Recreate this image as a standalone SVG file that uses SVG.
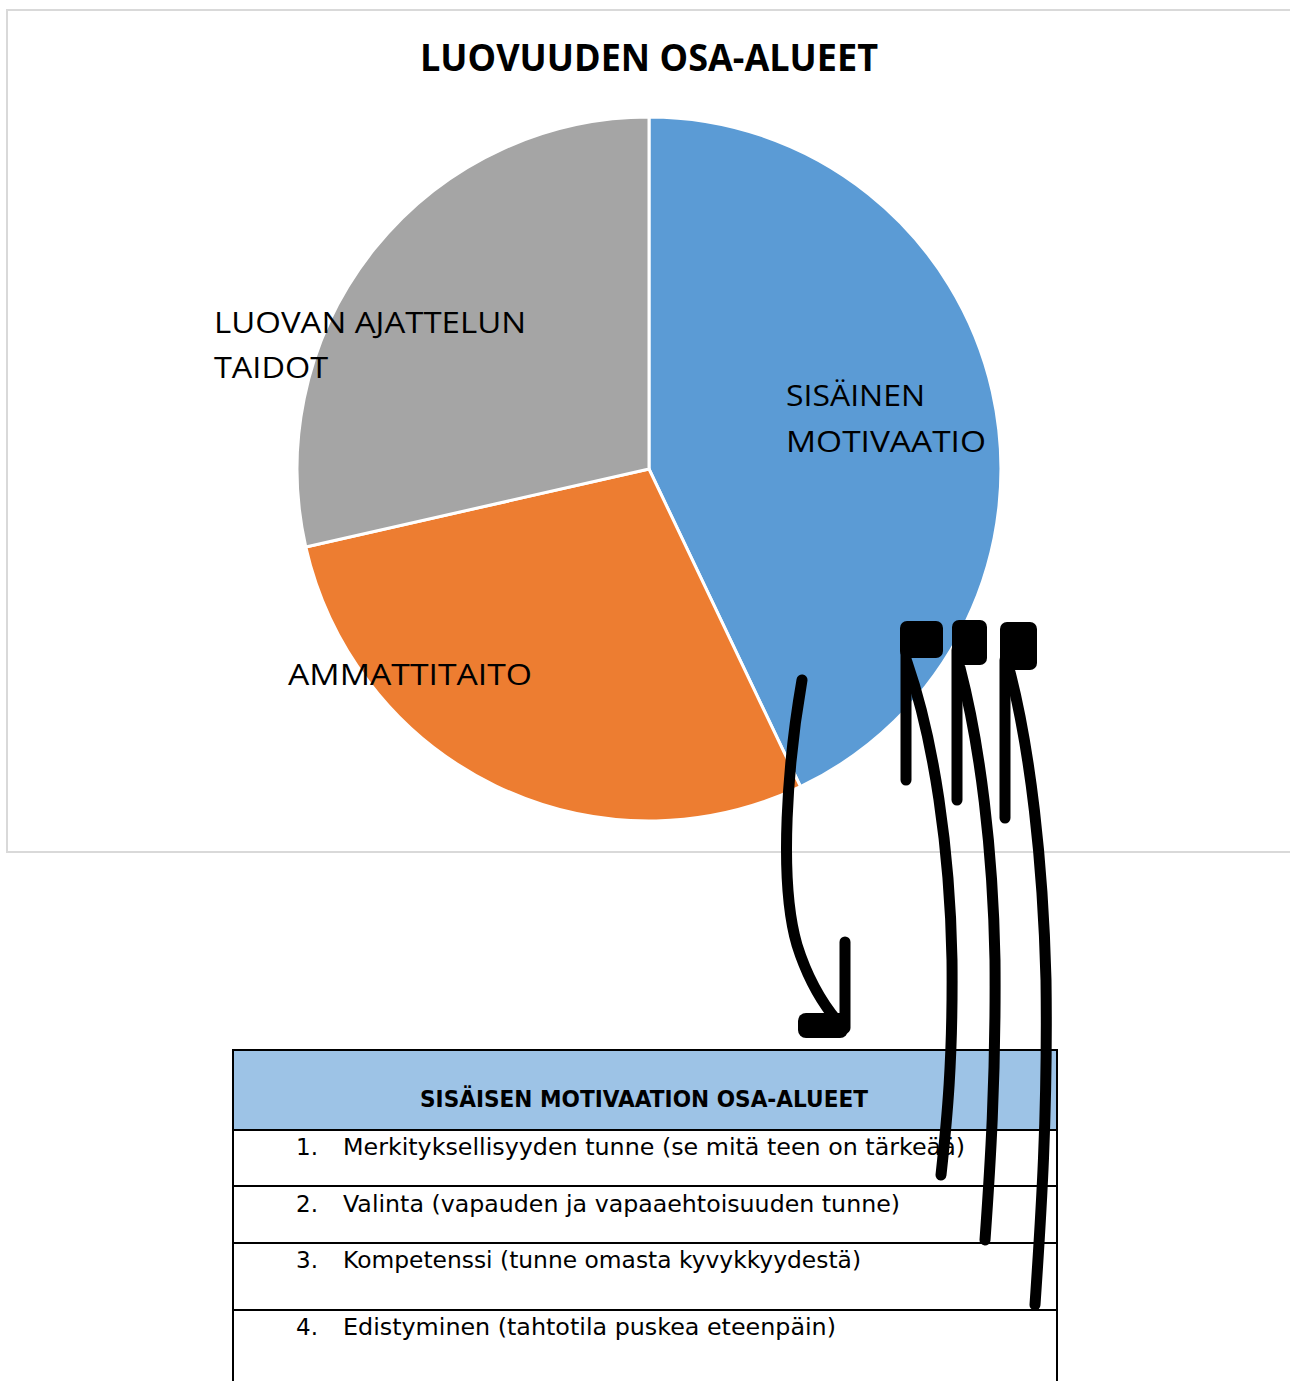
<svg xmlns="http://www.w3.org/2000/svg" width="1290" height="1381" viewBox="0 0 1290 1381">
<style>
.lbl{font-family:"Open Sans","Liberation Sans",sans-serif;font-size:30px;fill:#000}
.tt{font-family:"Open Sans","Liberation Sans",sans-serif;font-size:38px;font-weight:bold;fill:#000}
.tx{font-family:"DejaVu Sans","Liberation Sans",sans-serif;font-size:23px;fill:#000}
.th{font-family:"DejaVu Sans","Liberation Sans",sans-serif;font-size:23px;font-weight:bold;fill:#000}
.sl{stroke:#fff;stroke-width:3;stroke-linejoin:round}
.tl{stroke:#000;stroke-width:2;fill:none}
.ar{stroke:#000;stroke-width:11;fill:none;stroke-linecap:round}
.hd{fill:#000}
</style>
<rect width="1290" height="1381" fill="#fff"/>
<g id="chart">
<rect x="7" y="10" width="1300" height="842" fill="#fff" stroke="#d9d9d9" stroke-width="2"/>
<text class="tt" x="420" y="71" textLength="458" lengthAdjust="spacingAndGlyphs">LUOVUUDEN OSA-ALUEET</text>
</g>
<g id="slice-blue">
<path class="sl" fill="#5b9bd5" d="M649 469 L649 117 A352 352 0 0 1 800.5 786.7 Z"/>
<text class="lbl" x="786" y="406" textLength="139" lengthAdjust="spacingAndGlyphs">SISÄINEN</text>
<text class="lbl" x="786" y="452" textLength="200" lengthAdjust="spacingAndGlyphs">MOTIVAATIO</text>
</g>
<g id="slice-orange">
<path class="sl" fill="#ed7d31" d="M649 469 L800.5 786.7 A352 352 0 0 1 305.8 547 Z"/>
<text class="lbl" x="288" y="685" textLength="244" lengthAdjust="spacingAndGlyphs">AMMATTITAITO</text>
</g>
<g id="slice-gray">
<path class="sl" fill="#a5a5a5" d="M649 469 L305.8 547 A352 352 0 0 1 649 117 Z"/>
<text class="lbl" x="214" y="333" textLength="312" lengthAdjust="spacingAndGlyphs">LUOVAN AJATTELUN</text>
<text class="lbl" x="214" y="378" textLength="114" lengthAdjust="spacingAndGlyphs">TAIDOT</text>
</g>
<g id="table">
<rect x="233" y="1050" width="824" height="80" fill="#9dc3e6"/>
<path class="tl" d="M233 1400 L233 1050 L1057 1050 L1057 1400 M233 1130 L1057 1130 M233 1186 L1057 1186 M233 1243 L1057 1243 M233 1310 L1057 1310"/>
<text class="th" x="420" y="1107" textLength="448" lengthAdjust="spacingAndGlyphs">SISÄISEN MOTIVAATION OSA-ALUEET</text>
<text class="tx" x="296" y="1155">1.</text>
<text class="tx" x="343" y="1155" textLength="622" lengthAdjust="spacingAndGlyphs">Merkityksellisyyden tunne (se mitä teen on tärkeää)</text>
<text class="tx" x="296" y="1212">2.</text>
<text class="tx" x="343" y="1212" textLength="557" lengthAdjust="spacingAndGlyphs">Valinta (vapauden ja vapaaehtoisuuden tunne)</text>
<text class="tx" x="296" y="1268">3.</text>
<text class="tx" x="343" y="1268" textLength="518" lengthAdjust="spacingAndGlyphs">Kompetenssi (tunne omasta kyvykkyydestä)</text>
<text class="tx" x="296" y="1335">4.</text>
<text class="tx" x="343" y="1335" textLength="493" lengthAdjust="spacingAndGlyphs">Edistyminen (tahtotila puskea eteenpäin)</text>
</g>
<g id="connectors">
<g id="arrow-down">
<path class="ar" d="M802 680 C788 760 778 880 797 945 C808 980 822 1003 838 1022"/>
<path class="ar" d="M845 942 L845 1028"/>
<rect class="hd" x="798" y="1013" width="50" height="25" rx="8"/>
</g>
<g id="arrow-up-1">
<path class="ar" d="M907 662 C934 740 950 850 952 960 C953 1060 947 1120 941 1175"/>
<rect class="hd" x="900" y="621" width="43" height="37" rx="7"/>
<path class="ar" d="M906 650 L906 780"/>
</g>
<g id="arrow-up-2">
<path class="ar" d="M960 668 C980 745 993 850 995 960 C996 1080 990 1170 985 1240"/>
<rect class="hd" x="952" y="620" width="35" height="45" rx="7"/>
<path class="ar" d="M957 650 L957 800"/>
</g>
<g id="arrow-up-3">
<path class="ar" d="M1010 672 C1030 750 1043 860 1046 980 C1048 1120 1040 1230 1035 1305"/>
<rect class="hd" x="1000" y="622" width="37" height="48" rx="7"/>
<path class="ar" d="M1005 660 L1005 818"/>
</g>
</g>
</svg>
